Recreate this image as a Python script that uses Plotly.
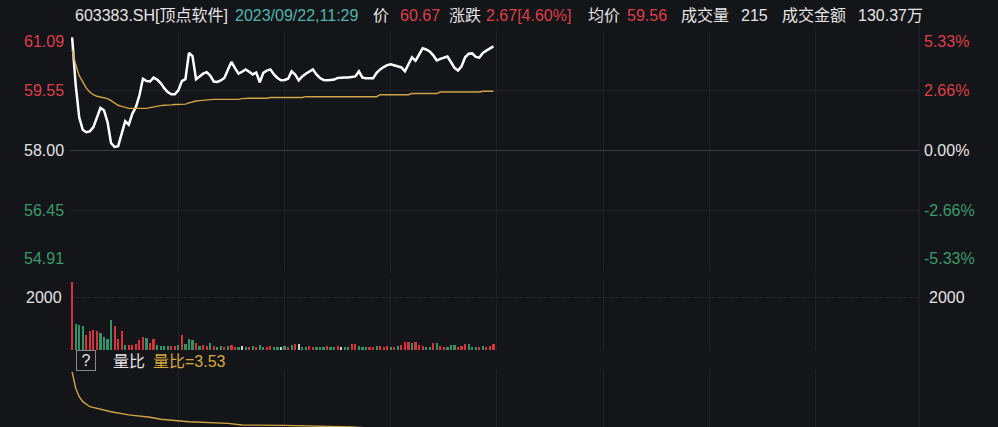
import plotly.graph_objects as go

W, H = 998, 427
BG = "#141519"
RED = "#de3f4a"
GREEN = "#3a9a6c"
WHITE = "#e4e4e4"
GOLD = "#cfa447"
GRID = "#1f2126"
FONT = "Liberation Sans, Noto Sans CJK SC, sans-serif"
FS = 16

# ---------------- data ----------------
minutes = list(range(120))
price = [60.90, 59.69, 58.85, 58.53, 58.47, 58.49, 58.60, 58.86, 59.09, 59.03,
         58.73, 58.19, 58.09, 58.11, 58.42, 58.75, 58.66, 58.94, 59.11, 59.41,
         59.84, 59.78, 59.77, 59.87, 59.82, 59.73, 59.60, 59.50, 59.44, 59.44,
         59.54, 59.78, 59.83, 60.50, 60.42, 59.83, 59.90, 59.97, 60.01, 59.92,
         59.77, 59.76, 59.80, 59.86, 60.07, 60.27, 60.11, 59.97, 60.02, 60.08,
         60.02, 59.95, 60.00, 59.75, 59.99, 60.05, 60.08, 59.95, 59.86, 59.80,
         59.81, 59.84, 60.03, 59.95, 59.80, 59.90, 59.97, 60.03, 60.08, 59.95,
         59.86, 59.81, 59.80, 59.81, 59.82, 59.86, 59.87, 59.87, 59.87, 59.88,
         59.90, 60.03, 59.87, 59.85, 59.85, 59.85, 59.99, 60.08, 60.14, 60.19,
         60.21, 60.18, 60.15, 60.13, 60.03, 60.21, 60.39, 60.30, 60.48, 60.62,
         60.59, 60.54, 60.44, 60.31, 60.35, 60.38, 60.41, 60.27, 60.12, 60.05,
         60.16, 60.39, 60.48, 60.49, 60.40, 60.38, 60.50, 60.56, 60.62, 60.67]
avg_price = [60.58, 60.21, 59.92, 59.74, 59.60, 59.50, 59.43, 59.39, 59.37, 59.36,
             59.33, 59.28, 59.22, 59.16, 59.13, 59.10, 59.08, 59.08, 59.08, 59.08,
             59.08, 59.08, 59.10, 59.12, 59.14, 59.15, 59.16, 59.16, 59.17, 59.18,
             59.18, 59.18, 59.19, 59.22, 59.25, 59.27, 59.28, 59.29, 59.30, 59.31,
             59.31, 59.31, 59.31, 59.31, 59.31, 59.31, 59.31, 59.31, 59.33, 59.34,
             59.34, 59.34, 59.34, 59.34, 59.34, 59.34, 59.36, 59.36, 59.36, 59.36,
             59.36, 59.36, 59.36, 59.36, 59.36, 59.36, 59.38, 59.38, 59.38, 59.38,
             59.38, 59.38, 59.38, 59.38, 59.38, 59.38, 59.38, 59.38, 59.38, 59.38,
             59.38, 59.38, 59.38, 59.38, 59.38, 59.38, 59.38, 59.43, 59.43, 59.43,
             59.43, 59.43, 59.43, 59.43, 59.43, 59.43, 59.46, 59.46, 59.46, 59.46,
             59.46, 59.46, 59.46, 59.46, 59.50, 59.50, 59.50, 59.50, 59.50, 59.50,
             59.50, 59.50, 59.50, 59.50, 59.50, 59.50, 59.52, 59.52, 59.52, 59.52]
volume = [2580, 980, 960, 910, 570, 720, 750, 700, 640, 490,
          430, 1130, 910, 400, 720, 190, 190, 200, 230, 380,
          500, 440, 250, 430, 190, 160, 140, 150, 140, 160,
          190, 570, 230, 430, 380, 250, 170, 190, 160, 260,
          140, 110, 170, 120, 150, 200, 130, 110, 160, 120,
          100, 140, 130, 180, 120, 110, 150, 130, 100, 120,
          140, 110, 190, 230, 220, 130, 110, 150, 120, 100,
          110, 130, 160, 120, 100, 150, 110, 130, 120, 210,
          240, 140, 110, 130, 120, 100, 150, 160, 120, 140,
          130, 110, 150, 200, 290, 310, 260, 300, 180, 150,
          130, 120, 260, 280, 140, 110, 120, 180, 190, 120,
          150, 230, 240, 130, 110, 120, 140, 130, 150, 215]
bar_dir = ("rgggrrrrgg" "ggrrrgrrrr" "rgrrggggrr" "grgggrgrrg"
           "rggrgrrgwg" "rgrggrrggw" "grgrwggrrg" "ggrggrwggr"
           "rgggrrgrrr" "grgrrrgrrr" "ggrgrrgggr" "rrgggrgrrr")
ratio_minutes = [0, 1, 2, 3, 5, 8, 11, 16, 22, 25, 33, 44, 48, 60, 73, 79, 90, 100, 110, 119]
ratio_values = [30.2, 23.0, 19.3, 17.1, 14.9, 13.8, 12.7, 11.3, 10.3, 9.4, 8.3, 7.6,
                6.9, 6.7, 6.3, 6.0, 5.0, 4.4, 3.9, 3.53]

price_ticks = [61.09, 59.55, 58.00, 56.45, 54.91]
price_labels = ["61.09", "59.55", "58.00", "56.45", "54.91"]
pct_labels = ["5.33%", "2.66%", "0.00%", "-2.66%", "-5.33%"]
label_colors = [RED, RED, WHITE, GREEN, GREEN]
vol_ticks = [2000]
prev_close = 58.00

header = [("603383.SH[顶点软件]", WHITE, 73), ("2023/09/22,11:29", "#4fb5aa", 233),
          ("价", WHITE, 371), ("60.67", RED, 398), ("涨跌", WHITE, 447),
          ("2.67[4.60%]", RED, 484), ("均价", WHITE, 586), ("59.56", RED, 625),
          ("成交量", WHITE, 679), ("215", WHITE, 739), ("成交金额", WHITE, 780),
          ("130.37万", WHITE, 856)]

# ---------------- figure ----------------
cmap = {"r": "#d8333d", "g": "#2f9467", "w": "#d0d0d0"}
bar_colors = [cmap[c] for c in bar_dir]

X0, X1 = 70 / W, 919 / W
def py(pix):
    return 1 - pix / H

fig = go.Figure()
fig.add_trace(go.Scatter(x=minutes, y=price, mode="lines",
                         line=dict(color="#ffffff", width=2.5), xaxis="x", yaxis="y",
                         hoverinfo="skip"))
fig.add_trace(go.Scatter(x=minutes, y=avg_price, mode="lines",
                         line=dict(color=GOLD, width=1.4), xaxis="x", yaxis="y",
                         hoverinfo="skip"))
fig.add_trace(go.Bar(x=minutes, y=volume, marker=dict(color=bar_colors, line=dict(width=0)),
                     width=0.62, xaxis="x2", yaxis="y2", hoverinfo="skip"))
fig.add_trace(go.Scatter(x=ratio_minutes, y=ratio_values, mode="lines",
                         line=dict(color=GOLD, width=1.4), xaxis="x3", yaxis="y3",
                         hoverinfo="skip"))

xgrid = [30, 60, 90, 120, 150, 180, 210]
xcommon = dict(domain=[X0, X1], range=[-0.6, 239.2], tickvals=xgrid, showticklabels=False,
               showgrid=True, gridcolor=GRID, gridwidth=1, zeroline=False, showline=False,
               fixedrange=True)

layout = dict(
    width=W, height=H, margin=dict(l=0, r=0, t=0, b=0),
    paper_bgcolor=BG, plot_bgcolor=BG, showlegend=False, bargap=0,
    font=dict(family=FONT, color=WHITE, size=FS),
    xaxis=dict(**xcommon, anchor="y"),
    xaxis2=dict(**xcommon, anchor="y2", matches="x"),
    xaxis3=dict(**xcommon, anchor="y3", matches="x"),
    yaxis=dict(domain=[py(271), py(30)], range=[price_ticks[-1], price_ticks[0]],
               tickvals=price_ticks, showticklabels=False, showgrid=True,
               gridcolor=GRID, zeroline=False, fixedrange=True),
    yaxis2=dict(domain=[py(350), py(278)], range=[0, 2717], tickvals=vol_ticks,
                showticklabels=False, showgrid=True, gridcolor="#26282e",
                griddash="dot", zeroline=False, fixedrange=True),
    yaxis3=dict(domain=[0, py(370)], range=[6, 31], showticklabels=False,
                showgrid=False, zeroline=False, fixedrange=True),
)
fig.update_layout(**layout)

# 0% line
fig.add_shape(type="line", xref="x", yref="y", x0=-0.6, x1=239.2, y0=prev_close, y1=prev_close,
              line=dict(color="#3a3c42", width=1.2))
# right border
fig.add_shape(type="line", xref="paper", yref="paper", x0=X1, x1=X1, y0=0, y1=py(22),
              line=dict(color="#26282e", width=1))

ann = []
n = len(price_ticks)
for i, (v, lab, pl, col) in enumerate(zip(price_ticks, price_labels, pct_labels, label_colors)):
    ya = "top" if i == 0 else ("bottom" if i == n - 1 else "middle")
    ys = -1 if i == 0 else (2 if i == n - 1 else 0)
    ann.append(dict(x=66 / W, y=v, xref="paper", yref="y", text=lab, showarrow=False,
                    xanchor="right", yanchor=ya, yshift=ys, font=dict(color=col, size=FS)))
    ann.append(dict(x=922 / W, y=v, xref="paper", yref="y", text=pl, showarrow=False,
                    xanchor="left", yanchor=ya, yshift=ys, font=dict(color=col, size=FS)))
for v in vol_ticks:
    ann.append(dict(x=64 / W, y=v, xref="paper", yref="y2", text=str(v), showarrow=False,
                    xanchor="right", yanchor="middle", font=dict(color=WHITE, size=FS)))
    ann.append(dict(x=927 / W, y=v, xref="paper", yref="y2", text=str(v), showarrow=False,
                    xanchor="left", yanchor="middle", font=dict(color=WHITE, size=FS)))
for txt, col, px in header:
    ann.append(dict(x=px / W, y=py(15), xref="paper", yref="paper", text=txt, showarrow=False,
                    xanchor="left", yanchor="middle", font=dict(color=col, size=FS)))
# sub-panel header
ann.append(dict(x=86 / W, y=py(360), xref="paper", yref="paper", text="?", showarrow=False,
                xanchor="center", yanchor="middle", font=dict(color=WHITE, size=FS),
                bordercolor="#8a8a8a", borderwidth=1, borderpad=1, width=16, height=17))
ann.append(dict(x=111 / W, y=py(361), xref="paper", yref="paper", text="量比", showarrow=False,
                xanchor="left", yanchor="middle", font=dict(color=WHITE, size=FS)))
ann.append(dict(x=151 / W, y=py(361), xref="paper", yref="paper", text="量比=3.53",
                showarrow=False, xanchor="left", yanchor="middle",
                font=dict(color="#d8a93c", size=FS)))
fig.update_layout(annotations=ann)

fig.write_html("out.html", config={"displayModeBar": False},
               post_script="document.body.style.margin='0';")
